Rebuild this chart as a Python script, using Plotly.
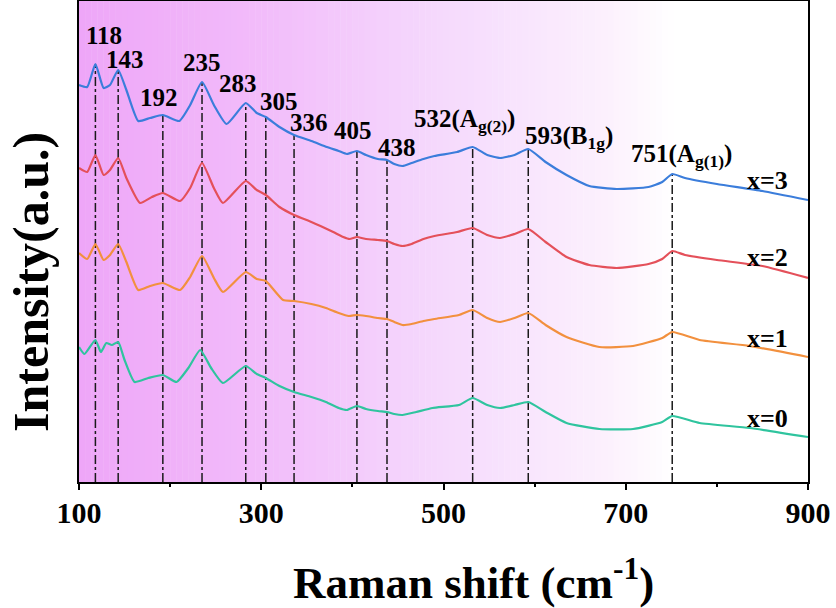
import numpy as np
import plotly.graph_objects as go

# ---------------- data ----------------
x3_shift = [100,109,118,127,134,143,152,165,178,192,210,222,235,248,262,283,295,305,320,336,355,372,385,394,405,415,428,438,446,455,465,478,490,515,532,548,562,578,593,612,635,660,690,725,740,751,765,800,850,900]
x3_int = [397,395,418,394,397,412,392,361,364,367,361,377,400,377,358,379,369,365,355,347,341,335,331,328,331,327,323,322,318,316,319,323,326,330,335,327,324,327,333,320,307,296,293,295,300,308,304,298,291,282]

x2_shift = [100,109,118,127,134,143,152,167,180,192,211,222,235,248,258,283,295,305,320,336,355,365,379,390,397,405,415,428,438,446,455,465,478,490,515,532,548,562,578,593,612,635,660,690,725,740,751,765,800,850,900]
x2_int = [314,310,327,307,312,324,304,279,285,289,281,294,319,294,279,301,292,287,275,267,260,256,250,245,243,245,243,242,241,238,236,238,243,246,250,254,247,244,248,253,240,225,217,214,218,223,231,227,222,216,204]

x1_shift = [100,109,118,127,134,143,152,165,178,192,211,222,235,248,258,283,295,305,324,336,355,371,385,396,405,415,428,438,446,455,465,478,490,517,532,548,562,578,593,612,635,671,708,740,751,781,836,900]
x1_int = [229,223,238,222,227,238,220,192,196,199,192,205,226,204,190,210,203,201,182,181,178,174,169,166,167,166,164,163,160,157,158,161,163,167,172,164,160,164,169,157,145,135,136,144,150,142,136,125]

x0_shift = [100,106,118,124,130,136,143,150,161,176,192,207,220,233,245,258,283,295,305,320,336,355,371,385,394,405,415,428,438,446,455,470,488,517,532,548,562,578,593,612,635,671,708,740,751,781,836,900]
x0_int = [135,128,142,130,139,137,140,122,100,104,107,100,114,132,114,99,116,108,104,96,90,85,80,74,72,76,73,71,70,68,67,70,74,77,84,77,74,77,80,70,59,53,53,60,66,59,54,45]

series_names = ["x=0", "x=1", "x=2", "x=3"]
peak_positions = [118, 143, 192, 235, 283, 305, 336, 405, 438, 532, 593, 751]
peak_labels = ["118", "143", "192", "235", "283", "305", "336", "405", "438",
               "532(A<sub>g(2)</sub>)", "593(B<sub>1g</sub>)", "751(A<sub>g(1)</sub>)"]
x_tick_vals = [100, 300, 500, 700, 900]
x_tick_text = ["100", "300", "500", "700", "900"]
x_minor_vals = [200, 400, 600, 800]
x_title = "Raman shift (cm<sup>-1</sup>)"
y_title = "Intensity(a.u.)"

# ---------------- layout helpers (positions / styles) ----------------
X_RANGE = [100, 900]
colors = {"x=0": "#2fc49e", "x=1": "#f2903e", "x=2": "#e4505a", "x=3": "#3b7ddb"}
series = {"x=0": (x0_shift, x0_int), "x=1": (x1_shift, x1_int),
          "x=2": (x2_shift, x2_int), "x=3": (x3_shift, x3_int)}
# label offsets (cm-1, intensity units) relative to each peak top on the x=3 curve
label_offsets = [(9, 29), (7, 11), (-4, 18), (0, 20), (-8, 20), (15, 16), (16, 13),
                 (-4, 21), (11, 13), (-9, 27), (45, 12), (10, 19)]
series_label_pos = {"x=3": (856, 302), "x=2": (856, 225), "x=1": (856, 144), "x=0": (856, 64)}

FONT = "Liberation Serif"
fig = go.Figure()

# background gradient
stops = [0.0, 0.25, 0.45, 0.6, 0.72, 0.82, 1.0]
stop_cols = [(238, 166, 248), (242, 188, 250), (244, 212, 252), (248, 228, 253),
             (252, 240, 253), (255, 255, 255), (255, 255, 255)]
shapes = []
N = 120
for i in range(N):
    f = (i + 0.5) / N
    c = [int(round(np.interp(f, stops, [s[k] for s in stop_cols]))) for k in range(3)]
    x0 = 100 + 800 * i / N
    x1 = 100 + 800 * (i + 1) / N
    shapes.append(dict(type="rect", xref="x", yref="paper", x0=x0, x1=x1 + 0.5, y0=0, y1=1,
                       fillcolor=f"rgb({c[0]},{c[1]},{c[2]})", line=dict(width=0), layer="below"))

# dash-dot guide lines from axis up to the x=3 curve
for p in peak_positions:
    top = float(np.interp(p, x3_shift, x3_int))
    shapes.append(dict(type="line", xref="x", yref="y", x0=p, x1=p, y0=0, y1=top,
                       line=dict(color="#1a1a1a", width=1.5, dash="dashdot"), layer="below"))

for name in series_names:
    xs, ys = series[name]
    fig.add_trace(go.Scatter(x=xs, y=ys, mode="lines", name=name,
                             line=dict(color=colors[name], width=2.2, shape="spline", smoothing=0.5),
                             showlegend=False, hoverinfo="skip"))

annotations = []
for p, lab, (dx, dy) in zip(peak_positions, peak_labels, label_offsets):
    top = float(np.interp(p, x3_shift, x3_int))
    annotations.append(dict(x=p + dx, y=top + dy, xref="x", yref="y", text=lab, showarrow=False,
                            font=dict(family=FONT, size=25, color="black", weight="bold")))
for name in series_names:
    sx, sy = series_label_pos[name]
    annotations.append(dict(x=sx, y=sy, xref="x", yref="y", text=name, showarrow=False,
                            font=dict(family=FONT, size=26, color="black", weight="bold")))
# axis titles
annotations.append(dict(x=0.5418, y=-0.202, xref="paper", yref="paper", text=x_title, showarrow=False,
                        xanchor="center", yanchor="middle",
                        font=dict(family=FONT, size=45, color="black", weight="bold")))
annotations.append(dict(x=-0.0658, y=0.416, xref="paper", yref="paper", text=y_title, showarrow=False,
                        xanchor="center", yanchor="middle", textangle=-90,
                        font=dict(family=FONT, size=50, color="black", weight="bold")))

fig.update_layout(
    width=836, height=608,
    margin=dict(l=79, r=28, t=1, b=126),
    paper_bgcolor="white", plot_bgcolor="white",
    shapes=shapes, annotations=annotations,
    xaxis=dict(range=X_RANGE, tickvals=x_tick_vals, ticktext=x_tick_text, automargin=False,
               ticks="outside", ticklen=6, tickwidth=1.5, tickcolor="black",
               ticklabelstandoff=-3,
               tickfont=dict(family=FONT, size=30, color="black", weight="bold"),
               minor=dict(tickvals=x_minor_vals, ticks="outside", ticklen=3, tickwidth=1.5, tickcolor="black"),
               showline=True, linecolor="black", linewidth=1.5, mirror=True, showgrid=False, zeroline=False),
    yaxis=dict(range=[0, 481], showticklabels=False, ticks="", showgrid=False, zeroline=False, automargin=False,
               showline=True, linecolor="black", linewidth=1.5, mirror=True),
)

fig.write_html("out.html", config={"displayModeBar": False})
with open("out.html", encoding="utf-8") as fh:
    html = fh.read()
html = html.replace("<body>", '<body style="margin:0;padding:0;overflow:hidden">', 1)
with open("out.html", "w", encoding="utf-8") as fh:
    fh.write(html)
